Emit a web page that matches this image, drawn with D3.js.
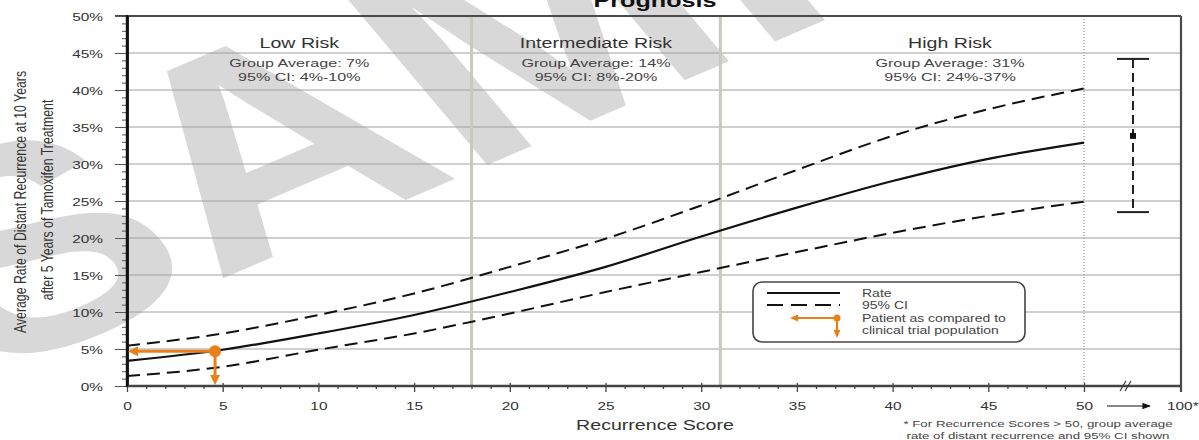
<!DOCTYPE html>
<html><head><meta charset="utf-8">
<script src="https://cdn.jsdelivr.net/npm/d3@7"></script>
<style>
body{margin:0;background:#fff}
svg{display:block}
text{font-family:"Liberation Sans",Arial,Helvetica,sans-serif}
</style>
</head><body>
<svg id="c" width="1199" height="440"></svg>
<script>
// ---------- data ----------
const scores   = [0, 5, 10, 15, 20, 25, 30, 35, 40, 45, 50];
const rate     = [3.4, 4.9, 7.1, 9.6, 12.7, 16.1, 20.2, 24.1, 27.7, 30.7, 32.9];
const ciUpper  = [5.45, 7.1, 9.6, 12.5, 16.1, 19.9, 24.4, 29.2, 33.8, 37.4, 40.2];
const ciLower  = [1.35, 2.6, 4.9, 7.1, 9.8, 12.7, 15.4, 18.1, 20.7, 23.0, 24.9];
const yTicks   = [0, 5, 10, 15, 20, 25, 30, 35, 40, 45, 50];
const xTicks   = [0, 5, 10, 15, 20, 25, 30, 35, 40, 45, 50];
const riskGroups   = ["Low Risk", "Intermediate Risk", "High Risk"];
const groupAverage = [7, 14, 31];
const groupCILow   = [4, 8, 24];
const groupCIHigh  = [10, 20, 37];
const groupCenter  = [9, 24.5, 43];      // recurrence score at which group label is centred
const cutoffs      = [18, 31];
const over50       = [23.5, 33.8, 44.2]; // low, mean, high for scores > 50
const patientScore = 4.6;
const patientRate  = 4.7;
const titleText    = "Prognosis";
const yTitle       = ["Average Rate of Distant Recurrence at 10 Years", "after 5 Years of Tamoxifen Treatment"];
const xTitle       = "Recurrence Score";
const footnote     = ["* For Recurrence Scores > 50, group average", "rate of distant recurrence and 95% CI shown"];
const legendItems  = ["Rate", "95% CI", "Patient as compared to", "clinical trial population"];

// ---------- layout ----------
const SX = 1.4;               // horizontal stretch of all type
const L = 127, R = 1181, T = 16, B = 386;
const ORANGE = "#e8801a";
const svg = d3.select("#c");
const x = d3.scaleLinear().domain([0, 50]).range([L, 1084]);
const y = d3.scaleLinear().domain([0, 50]).range([B, T]);

function txt(g, px, py, s, size, opts = {}) {
  return g.append("text")
    .attr("transform", `translate(${px},${py}) scale(${SX},1)` + (opts.rot ? ` rotate(${opts.rot})` : ""))
    .attr("text-anchor", opts.anchor || "middle")
    .attr("font-size", size)
    .attr("font-weight", opts.weight || "normal")
    .attr("fill", opts.fill || "#333")
    .text(s);
}

// watermark
svg.append("text")
  .attr("transform", "translate(-16,381) scale(1.4,1) rotate(-31)")
  .attr("font-size", 288).attr("font-weight", "bold").attr("fill", "#d8d8d8")
  .text("SAMPLE");

// gridlines
svg.append("g").selectAll("line").data(yTicks.filter(d => d > 0 && d < 50)).join("line")
  .attr("x1", L).attr("x2", R).attr("y1", d => y(d)).attr("y2", d => y(d))
  .attr("stroke", "#a0a0a0").attr("stroke-width", 1);

// risk cutoffs
svg.append("g").selectAll("line").data(cutoffs).join("line")
  .attr("x1", d => x(d)).attr("x2", d => x(d)).attr("y1", T).attr("y2", B)
  .attr("stroke", "#c9c9c2").attr("stroke-width", 3);

// dotted line at 50
svg.append("line").attr("x1", x(50)).attr("x2", x(50)).attr("y1", T).attr("y2", B)
  .attr("stroke", "#b5b5b5").attr("stroke-width", 2).attr("stroke-dasharray", "1,2");

// borders top / right
svg.append("line").attr("x1", 115).attr("x2", R).attr("y1", T).attr("y2", T)
  .attr("stroke", "#4a4a4a").attr("stroke-width", 2.2);
svg.append("line").attr("x1", R).attr("x2", R).attr("y1", T).attr("y2", B + 6)
  .attr("stroke", "#4a4a4a").attr("stroke-width", 2.2);

// y axis
const yMinor = d3.range(0, 51).filter(d => d % 5 !== 0);
const ya = svg.append("g").attr("transform", `translate(${L},0)`);
ya.call(d3.axisLeft(y).tickValues(yMinor).tickSize(5).tickSizeOuter(0).tickFormat(""));
const yb = svg.append("g").attr("transform", `translate(${L},0)`);
yb.call(d3.axisLeft(y).tickValues(yTicks).tickSize(12).tickSizeOuter(0).tickFormat(d => d + "%"));
[ya, yb].forEach(g => {
  g.selectAll(".tick line").attr("stroke", "#555");
  g.select(".domain").attr("stroke", "#111").attr("stroke-width", 2.4);
});
yb.selectAll(".tick text")
  .attr("x", null).attr("dy", null)
  .attr("transform", `translate(-24,4) scale(${SX},1)`)
  .attr("font-size", 11).attr("fill", "#333")
  .attr("font-family", '"Liberation Sans",Arial,sans-serif');

// x axis
const xMinor = d3.range(0, 51).filter(d => d % 5 !== 0);
const xa = svg.append("g").attr("transform", `translate(0,${B})`);
xa.call(d3.axisBottom(x).tickValues(xMinor).tickSize(3).tickSizeOuter(0).tickFormat(""));
const xb = svg.append("g").attr("transform", `translate(0,${B})`);
xb.call(d3.axisBottom(x).tickValues(xTicks).tickSize(6).tickSizeOuter(0));
[xa, xb].forEach(g => { g.selectAll(".tick line").attr("stroke", "#444").attr("stroke-width", 1.3); g.select(".domain").remove(); });
xb.selectAll(".tick line").attr("y1", -3);
xb.selectAll(".tick text")
  .attr("y", null).attr("dy", null)
  .attr("transform", `translate(0,24) scale(${SX},1)`)
  .attr("font-size", 11).attr("fill", "#333")
  .attr("font-family", '"Liberation Sans",Arial,sans-serif');
svg.append("line").attr("x1", L).attr("x2", R).attr("y1", B).attr("y2", B)
  .attr("stroke", "#444").attr("stroke-width", 2.4);
svg.append("line").attr("x1", L).attr("x2", L).attr("y1", T - 1).attr("y2", B + 1)
  .attr("stroke", "#111").attr("stroke-width", 2.4);

// axis break mark
[1123, 1128].forEach(bx => svg.append("line")
  .attr("x1", bx - 3).attr("y1", B + 5).attr("x2", bx + 3).attr("y2", B - 5)
  .attr("stroke", "#333").attr("stroke-width", 1.2));

// arrow 50 -> 100
const defs = svg.append("defs");
defs.append("marker").attr("id", "ah").attr("viewBox", "0 0 10 10").attr("refX", 9).attr("refY", 5)
  .attr("markerWidth", 7).attr("markerHeight", 7).attr("orient", "auto")
  .append("path").attr("d", "M0,1L10,5L0,9Z").attr("fill", "#111");
svg.append("line").attr("x1", 1107).attr("x2", 1150).attr("y1", B + 20).attr("y2", B + 20)
  .attr("stroke", "#111").attr("stroke-width", 1.2).attr("marker-end", "url(#ah)");
txt(svg, 1167, B + 24, "100*", 11, { anchor: "start" });

// curves
const line = d3.line().x((d, i) => x(scores[i])).y(d => y(d)).curve(d3.curveMonotoneX);
svg.append("path").attr("d", line(ciUpper)).attr("fill", "none").attr("stroke", "#111")
  .attr("stroke-width", 2).attr("stroke-dasharray", "13,7");
svg.append("path").attr("d", line(ciLower)).attr("fill", "none").attr("stroke", "#111")
  .attr("stroke-width", 2).attr("stroke-dasharray", "13,7");
svg.append("path").attr("d", line(rate)).attr("fill", "none").attr("stroke", "#111")
  .attr("stroke-width", 2.2);

// >50 error bar
const ex = 1133;
svg.append("line").attr("x1", ex).attr("x2", ex).attr("y1", y(over50[2])).attr("y2", y(over50[0]))
  .attr("stroke", "#222").attr("stroke-width", 2).attr("stroke-dasharray", "9,5");
[over50[0], over50[2]].forEach(v => svg.append("line").attr("x1", ex - 16).attr("x2", ex + 16)
  .attr("y1", y(v)).attr("y2", y(v)).attr("stroke", "#222").attr("stroke-width", 2));
svg.append("rect").attr("x", ex - 3).attr("y", y(over50[1]) - 3).attr("width", 6).attr("height", 6).attr("fill", "#111");

// risk group labels
riskGroups.forEach((g, i) => {
  const cx = x(groupCenter[i]);
  txt(svg, cx, 48, g, 14, { fill: "#333" });
  txt(svg, cx, 67, `Group Average: ${groupAverage[i]}%`, 11.5, { fill: "#444" });
  txt(svg, cx, 81, `95% CI: ${groupCILow[i]}%-${groupCIHigh[i]}%`, 11.5, { fill: "#444" });
});

// patient marker
const px = x(patientScore), py = y(patientRate);
function tri(g, tx, ty, dir, s, w) {
  const p = dir === "left" ? [[tx, ty], [tx + s, ty - w], [tx + s, ty + w]]
                           : [[tx, ty], [tx - w, ty - s], [tx + w, ty - s]];
  g.append("path").attr("d", "M" + p.join("L") + "Z").attr("fill", ORANGE);
}
svg.append("line").attr("x1", px).attr("x2", x(0) + 8).attr("y1", py).attr("y2", py)
  .attr("stroke", ORANGE).attr("stroke-width", 3);
svg.append("line").attr("x1", px).attr("x2", px).attr("y1", py).attr("y2", y(0) - 8)
  .attr("stroke", ORANGE).attr("stroke-width", 3);
tri(svg, x(0) + 1, py, "left", 10, 5);
tri(svg, px, y(0) - 1, "down", 10, 5);
svg.append("circle").attr("cx", px).attr("cy", py).attr("r", 6).attr("fill", ORANGE);

// legend
const lg = svg.append("g");
lg.append("rect").attr("x", 753).attr("y", 282).attr("width", 272).attr("height", 60).attr("rx", 9)
  .attr("fill", "#fff").attr("stroke", "#444").attr("stroke-width", 1.6);
lg.append("line").attr("x1", 767).attr("x2", 840).attr("y1", 293).attr("y2", 293).attr("stroke", "#111").attr("stroke-width", 2);
lg.append("line").attr("x1", 767).attr("x2", 840).attr("y1", 305).attr("y2", 305).attr("stroke", "#111").attr("stroke-width", 2).attr("stroke-dasharray", "16,8");
lg.append("line").attr("x1", 837).attr("x2", 797).attr("y1", 318).attr("y2", 318).attr("stroke", ORANGE).attr("stroke-width", 2.2);
lg.append("line").attr("x1", 837).attr("x2", 837).attr("y1", 318).attr("y2", 331).attr("stroke", ORANGE).attr("stroke-width", 2.2);
tri(lg, 790, 318, "left", 8, 3.5);
tri(lg, 837, 338, "down", 8, 3.5);
lg.append("circle").attr("cx", 837).attr("cy", 318).attr("r", 3.5).attr("fill", ORANGE);
[297, 309, 322, 334].forEach((ty, i) => txt(lg, 862, ty, legendItems[i], 10, { anchor: "start", fill: "#444" }));

// titles
txt(svg, 655, 7, titleText, 18, { weight: "bold", fill: "#111" });
txt(svg, 655, 430, xTitle, 14, { fill: "#333" });
txt(svg, 26, 202, yTitle[0], 12.3, { rot: -90, fill: "#333" });
txt(svg, 53, 200, yTitle[1], 12.3, { rot: -90, fill: "#333" });
txt(svg, 1038, 427, footnote[0], 9.5, { fill: "#444" });
txt(svg, 1038, 439, footnote[1], 9.5, { fill: "#444" });
</script>
</body></html>
